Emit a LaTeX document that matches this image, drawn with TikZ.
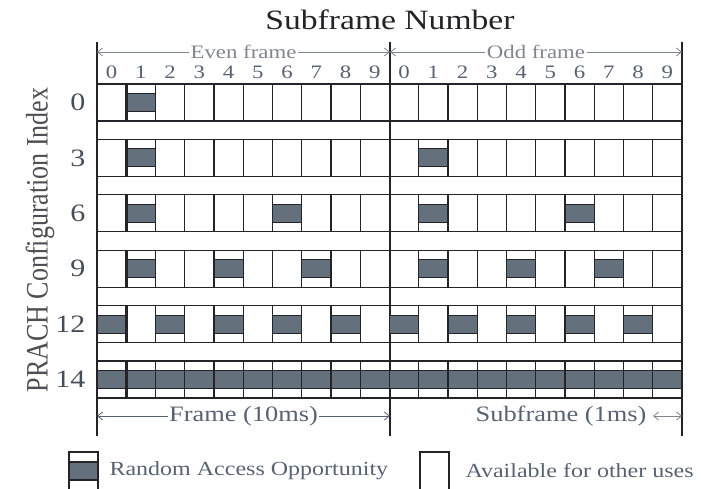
\documentclass[tikz,border=0pt]{standalone}
\usepackage{fontspec}
\setmainfont{Liberation Serif}[FakeStretch=1.2]
\newfontfamily\uprightserif{Liberation Serif}
\usepackage{tikz}
\usetikzlibrary{arrows.meta}
\usepackage{xcolor}
\definecolor{slotfill}{RGB}{100,112,124}
\definecolor{ink}{RGB}{35,35,40}
\definecolor{lbl}{RGB}{88,98,114}
\definecolor{dimgray}{RGB}{128,133,143}

\begin{document}
\begin{tikzpicture}[x=1pt,y=-1pt,>={Straight Barb[length=5pt,width=8pt]},
  grid/.style={draw=ink,line width=1.1pt},
  dim/.style={draw=dimgray,line width=0.8pt,<->},
  dimlbl/.style={fill=white,inner sep=1.5pt,text=dimgray,font=\fontsize{19}{20}\selectfont},
  colnum/.style={text=lbl,font=\fontsize{19}{20}\selectfont},
  rowlbl/.style={text=lbl!80!black,font=\fontsize{25}{26}\selectfont,anchor=east}]
\useasboundingbox (0,0) rectangle (701,489);
\node[text=ink,font=\fontsize{28}{30}\selectfont] (title) at (390,20) {Subframe Number};
\node[rotate=90,text=ink!80,font=\uprightserif\fontsize{26}{28}\selectfont] (ylab) at (40,240) {\scalebox{1}[1.2]{PRACH Configuration Index}};
% subframe numbers
\foreach \i in {0,...,19}{
  \pgfmathtruncatemacro\n{mod(\i,10)}
  \node[colnum] (sf\i) at (97+29.25*\i+14.6,72) {\n};
}
% frame borders
\foreach \x in {97,390,682}
  \draw[grid,line width=1.3pt] (\x,42) -- (\x,436);
% rows: index / slots with a random access opportunity
\foreach \r/\idx/\slots in {0/0/{1}, 1/3/{1,11}, 2/6/{1,6,11,16}, 3/9/{1,4,7,11,14,17},
    4/12/{0,2,4,6,8,10,12,14,16,18}, 5/14/{0,...,19}}{
  \pgfmathsetmacro\t{84+55.4*\r}
  \foreach \c in \slots{
    \pgfmathsetmacro\x{97+29.25*\c}
    \fill[slotfill] (\x,\t+9.5) rectangle (\x+29.25,\t+27.5);
    \draw[grid] (\x,\t+9.5) -- ++(29.25,0) (\x,\t+27.5) -- ++(29.25,0);
  }
  \draw[grid] (97,\t) rectangle (682,\t+37);
  \foreach \i in {1,...,19}
    \draw[grid] (97+29.25*\i,\t) -- ++(0,37);
  \draw[ink,line width=3pt] (126.25,\t) -- ++(0,37);
  \node[rowlbl] (cfg\idx) at (89,\t+18.5) {\idx};
}
% dimension lines
\coordinate (evenL) at (97,52);
\coordinate (evenR) at (390,52);
\coordinate (oddR) at (682,52);
\coordinate (frL) at (97,416);
\coordinate (frR) at (390,416);
\coordinate (sfL) at (653,416);
\coordinate (sfR) at (682,416);
\draw[dim] (evenL) -- node[dimlbl] (even) {Even frame} (evenR);
\draw[dim] (evenR) -- node[dimlbl] (odd) {Odd frame} (oddR);
\draw[dim,draw=lbl] (frL) -- node[dimlbl,text=lbl,font=\fontsize{22}{24}\selectfont] (frame) {Frame (10ms)} (frR);
\draw[dim] (sfL) -- (sfR);
\node[text=lbl,font=\fontsize{22}{24}\selectfont,anchor=east] (sub) at (650,416) {Subframe (1ms)};
% legend
\fill[slotfill] (69,462) rectangle (98,480);
\draw[grid] (69,495) -- (69,452) -- (98,452) -- (98,495) (69,462) -- (98,462) (69,480) -- (98,480);
\node[text=lbl,font=\fontsize{20}{22}\selectfont,anchor=west] (rao) at (106,471) {Random Access Opportunity};
\draw[grid] (420,495) -- (420,452) -- (449,452) -- (449,495);
\node[text=lbl,font=\fontsize{20}{22}\selectfont,anchor=west] (avail) at (462,471) {Available for other uses};
\end{tikzpicture}
\end{document}
